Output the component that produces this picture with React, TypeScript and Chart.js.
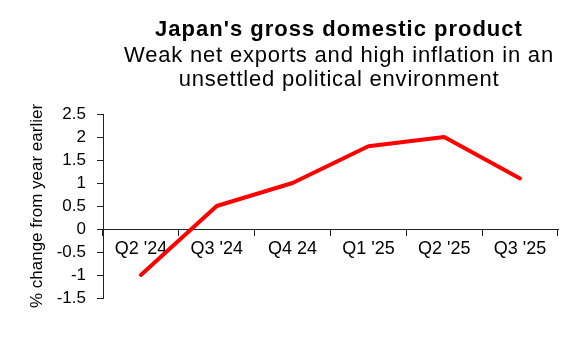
import React, { useEffect, useRef } from "react";
import { Chart, registerables } from "chart.js";

Chart.register(...registerables);

const titleText = "Japan's gross domestic product";
const subtitleLines = ["Weak net exports and high inflation in an", "unsettled political environment"];
const yAxisTitle = "% change from year earlier";
const categories = ["Q2 '24", "Q3 '24", "Q4 24", "Q1 '25", "Q2 '25", "Q3 '25"];
const gdpChange = [-1.0, 0.5, 1.0, 1.8, 2.0, 1.1];
const yMin = -1.5;
const yMax = 2.5;
const yStep = 0.5;

const FONT = "'Liberation Sans', Arial, sans-serif";

export default function App() {
  const canvasRef = useRef<HTMLCanvasElement | null>(null);

  useEffect(() => {
    if (!canvasRef.current) return;
    const chart = new Chart(canvasRef.current, {
      type: "line",
      data: {
        labels: categories,
        datasets: [
          {
            data: gdpChange,
            borderColor: "#ff0000",
            backgroundColor: "#ff0000",
            borderWidth: 4,
            pointRadius: 0,
            tension: 0,
            borderCapStyle: "round",
            borderJoinStyle: "round",
            fill: false,
          },
        ],
      },
      options: {
        animation: false,
        responsive: false,
        devicePixelRatio: 1,
        layout: { padding: { top: 114, bottom: 62, left: 0, right: 22 } },
        plugins: {
          legend: { display: false },
          title: { display: false },
          tooltip: { enabled: false },
        },
        scales: {
          x: {
            type: "category",
            position: { y: 0 } as any,
            offset: true,
            grid: {
              offset: true,
              drawOnChartArea: false,
              drawTicks: true,
              tickLength: 6,
              color: "#222",
            },
            border: { display: true, color: "#222", width: 1 },
            ticks: {
              color: "#000",
              font: { family: FONT, size: 18 },
              padding: 3,
              maxRotation: 0,
              autoSkip: false,
            },
          },
          y: {
            min: yMin,
            max: yMax,
            afterFit: (scale: any) => {
              scale.width = 103;
            },
            grid: {
              drawOnChartArea: false,
              drawTicks: true,
              tickLength: 6,
              color: "#222",
            },
            border: { display: true, color: "#222", width: 1 },
            ticks: {
              stepSize: yStep,
              autoSkip: false,
              color: "#000",
              font: { family: FONT, size: 17 },
              padding: 11,
              callback: (v: any) => String(v),
            },
            title: {
              display: true,
              text: yAxisTitle,
              color: "#000",
              font: { family: FONT, size: 17 },
              padding: { top: 27, bottom: 0 },
            },
          },
        },
      },
    });
    return () => chart.destroy();
  }, []);

  return (
    <div style={{ position: "absolute", left: 0, top: 0, width: 580, height: 360, background: "#fff" }}>
      <canvas ref={canvasRef} width={580} height={360} style={{ position: "absolute", left: 0, top: 0 }} />
      <div
        style={{
          position: "absolute",
          left: 98,
          width: 482,
          top: 17,
          textAlign: "center",
          fontFamily: FONT,
          fontSize: 22,
          fontWeight: "bold",
          lineHeight: "24px",
          letterSpacing: "1px",
          whiteSpace: "nowrap",
          color: "#000",
        }}
      >
        {titleText}
      </div>
      <div
        style={{
          position: "absolute",
          left: 98,
          width: 482,
          top: 43,
          textAlign: "center",
          fontFamily: FONT,
          fontSize: 22,
          lineHeight: "24px",
          letterSpacing: "0.8px",
          whiteSpace: "nowrap",
          color: "#000",
        }}
      >
        {subtitleLines.map((l) => (
          <div key={l}>{l}</div>
        ))}
      </div>
    </div>
  );
}
